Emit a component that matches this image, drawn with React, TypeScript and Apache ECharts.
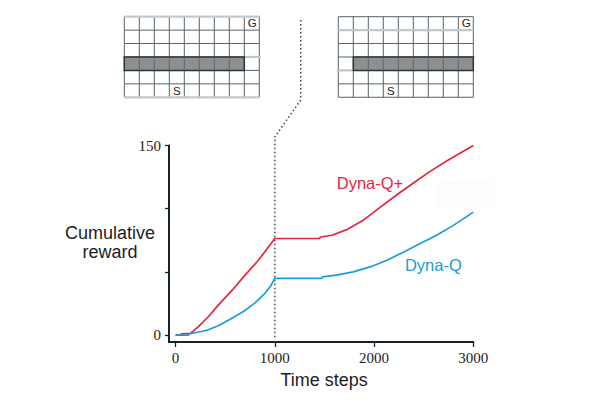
import React, { useEffect, useRef } from "react";
import * as echarts from "echarts";

const TICKS_X = [0, 1000, 2000, 3000];
const LABELS_X = [0, 1000, 2000, 3000];
const TICKS_Y = [0, 50, 100, 150];
const LABELS_Y = [0, 150];
const X_MAX = 3000;
const Y_MAX = 150;
const BLOCK_CHANGE = 1000;

const dynaQPlusSteps = [0, 50, 60, 150, 230, 330, 430, 570, 700, 835, 1000, 1450, 1460, 1575, 1725, 1890, 2060, 2230, 2400, 2565, 2735, 2900, 3000];
const dynaQPlusReward = [0, 0, 1, 1.3, 6.6, 14.5, 23.7, 35.5, 47.4, 59.2, 76.4, 76.4, 77.6, 79, 83.4, 90.8, 101, 111, 120.5, 129.5, 138, 145.5, 150];

const dynaQSteps = [0, 130, 140, 250, 330, 430, 550, 700, 800, 900, 960, 1000, 1470, 1480, 1620, 1790, 1960, 2130, 2300, 2465, 2630, 2800, 3000];
const dynaQReward = [0, 0, 1, 2.6, 4.2, 7.3, 12.5, 19.5, 25.5, 33, 39, 44.8, 44.8, 46, 47.4, 50, 53.9, 59.2, 65.8, 72.4, 79, 86.8, 97.3];

const MAZE_COLS = 9;
const MAZE_ROWS = 6;

const AXIS_COLOR = "#15232d";
const SANS = "Liberation Sans, Arial, Helvetica, sans-serif";
const SERIF = "Liberation Serif, Times New Roman, serif";

function mazeGraphics(ox: number, oy: number, cw: number, ch: number, obstacleCol: number, lightRows: number[], extras: number[][]) {
  const els: any[] = [];
  const w = cw * MAZE_COLS;
  const h = ch * MAZE_ROWS;
  const dark = { stroke: "#56636b", lineWidth: 1 };
  const light = { stroke: "#c3c7c9", lineWidth: 2.2 };
  els.push({ type: "rect", shape: { x: ox, y: oy, width: w, height: h }, style: { fill: "#fff" }, z: 1 });
  for (let r = 0; r <= MAZE_ROWS; r++) {
    if (lightRows.includes(r)) continue;
    els.push({ type: "line", shape: { x1: ox, y1: oy + r * ch, x2: ox + w, y2: oy + r * ch }, style: dark, z: 2 });
  }
  for (let c = 0; c <= MAZE_COLS; c++) {
    els.push({ type: "line", shape: { x1: ox + c * cw, y1: oy, x2: ox + c * cw, y2: oy + h }, style: dark, z: 2 });
  }
  for (const r of lightRows) {
    els.push({ type: "line", shape: { x1: ox, y1: oy + r * ch, x2: ox + w, y2: oy + r * ch }, style: light, z: 3 });
  }
  for (const e of extras) {
    els.push({ type: "line", shape: { x1: ox + e[0] * cw, y1: oy + e[1] * ch, x2: ox + e[2] * cw, y2: oy + e[3] * ch }, style: light, z: 3 });
  }
  els.push({
    type: "rect",
    shape: { x: ox + obstacleCol * cw, y: oy + 3 * ch, width: 8 * cw, height: ch },
    style: { fill: "#8f8f8f", stroke: "#27363d", lineWidth: 1.5 },
    z: 4,
  });
  for (let c = 1; c < 8; c++) {
    const x = ox + (obstacleCol + c) * cw;
    els.push({ type: "line", shape: { x1: x, y1: oy + 3 * ch, x2: x, y2: oy + 4 * ch }, style: { stroke: "#56636b", lineWidth: 0.8 }, z: 5 });
  }
  els.push({
    type: "text",
    x: ox + 8.5 * cw + 0.5,
    y: oy + 0.5 * ch,
    style: { text: "G", font: `11.5px ${SANS}`, fill: "#222", align: "center", verticalAlign: "middle" },
    z: 6,
  });
  els.push({
    type: "text",
    x: ox + 3.5 * cw,
    y: oy + 5.5 * ch,
    style: { text: "S", font: `11.5px ${SANS}`, fill: "#222", align: "center", verticalAlign: "middle" },
    z: 6,
  });
  return els;
}

export default function App() {
  const ref = useRef<HTMLDivElement>(null);
  useEffect(() => {
    const chart = echarts.init(ref.current!, null, { renderer: "svg" });
    const X_MIN = -66.5;
    const Y_MIN = -5.5;
    chart.setOption({
      animation: false,
      backgroundColor: "#fff",
      grid: { left: 169, right: 122.7, top: 145.5, bottom: 60, containLabel: false },
      xAxis: {
        type: "value",
        min: X_MIN,
        max: X_MAX,
        name: "Time steps",
        nameLocation: "middle",
        nameGap: 29,
        nameTextStyle: { fontFamily: SANS, fontSize: 18, color: "#1d1d1d", padding: [0, 0, 0, 6] },
        axisLine: { show: true, onZero: false, lineStyle: { color: AXIS_COLOR, width: 2 } },
        axisTick: { show: true, length: 5, customValues: TICKS_X, lineStyle: { color: AXIS_COLOR, width: 1.3 } },
        axisLabel: {
          customValues: LABELS_X,
          formatter: (v: number) => String(v),
          fontFamily: SERIF,
          fontSize: 15,
          color: "#222",
          margin: 8,
        },
        splitLine: { show: false },
      },
      yAxis: {
        type: "value",
        min: Y_MIN,
        max: Y_MAX,
        axisLine: { show: true, onZero: false, lineStyle: { color: AXIS_COLOR, width: 2 } },
        axisTick: { show: true, length: 4, customValues: TICKS_Y, lineStyle: { color: AXIS_COLOR, width: 1.3 } },
        axisLabel: {
          customValues: LABELS_Y,
          formatter: (v: number) => String(v),
          fontFamily: SERIF,
          fontSize: 15,
          color: "#222",
          margin: 8,
        },
        splitLine: { show: false },
      },
      series: [
        {
          name: "Dyna-Q+",
          type: "line",
          data: dynaQPlusSteps.map((x, i) => [x, dynaQPlusReward[i]]),
          showSymbol: false,
          lineStyle: { color: "#e6253e", width: 1.7 },
          itemStyle: { color: "#e6253e" },
          z: 3,
        },
        {
          name: "Dyna-Q",
          type: "line",
          data: dynaQSteps.map((x, i) => [x, dynaQReward[i]]),
          showSymbol: false,
          lineStyle: { color: "#1b9bd8", width: 1.7 },
          itemStyle: { color: "#1b9bd8" },
          z: 3,
        },
      ],
    });

    const px = chart.convertToPixel({ xAxisIndex: 0 }, BLOCK_CHANGE) as number;
    const py0 = chart.convertToPixel({ yAxisIndex: 0 }, 0) as number;
    const cw = 15;
    const ch = 13.43;
    const graphics: any[] = [
      { type: "rect", shape: { x: 436.7, y: 180, width: 58, height: 30 }, style: { fill: "#fdfdfd" }, z: -1 },
      ...mazeGraphics(124.3, 16.7, cw, ch, 0, [0, 6], [[8, 3, 9.1, 3], [-0.1, 3, 0, 3]]),
      ...mazeGraphics(338.3, 16.7, cw, ch, 1, [1], [[-0.1, 4, 1, 4], [9, 3, 9.1, 3]]),
      {
        type: "polyline",
        shape: { points: [[300.7, 20], [300.7, 100], [px, 137], [px, py0 + 5]] },
        style: { stroke: "#444", lineWidth: 1.5, lineDash: [1.5, 2.5], fill: null },
        z: 2,
      },
      {
        type: "text",
        x: 110,
        y: 242.5,
        style: {
          text: "Cumulative\nreward",
          font: `18px ${SANS}`,
          lineHeight: 18.5,
          fill: "#1d1d1d",
          align: "center",
          verticalAlign: "middle",
        },
        z: 10,
      },
      {
        type: "text",
        x: 370,
        y: 183.3,
        style: { text: "Dyna-Q+", font: `16.5px ${SANS}`, fill: "#e6253e", align: "center", verticalAlign: "middle" },
        z: 10,
      },
      {
        type: "text",
        x: 433.3,
        y: 265,
        style: { text: "Dyna-Q", font: `16.5px ${SANS}`, fill: "#1b9bd8", align: "center", verticalAlign: "middle" },
        z: 10,
      },
    ];
    chart.setOption({ graphic: graphics });
    return () => chart.dispose();
  }, []);
  return (
    <div
      ref={ref}
      style={{ position: "absolute", left: 0, top: 0, width: 596, height: 402, background: "#fff" }}
    />
  );
}
